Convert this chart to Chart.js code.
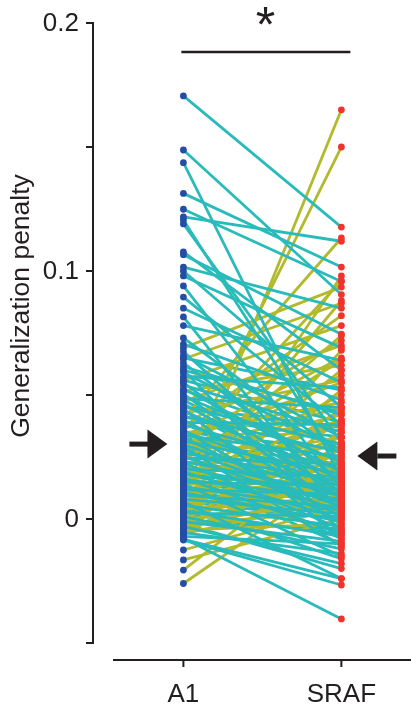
<!DOCTYPE html>
<html><head><meta charset="utf-8">
<script src="https://cdn.jsdelivr.net/npm/chart.js@4.4.1/dist/chart.umd.min.js"></script>
<style>html,body{margin:0;padding:0;background:#fff;}canvas{display:block;}</style>
</head><body>
<canvas id="c" width="411" height="711"></canvas>
<script>
const categories = ['A1', 'SRAF'];
const a1Values = [
0.1706,0.1488,0.1437,0.1313,0.1249,0.1218,0.1206,0.1190,0.1077,0.1066,
0.1016,0.1000,0.0980,0.0940,0.0895,0.0850,0.0815,0.0780,0.0730,0.0705,
0.0690,0.0675,0.0660,0.0645,0.0630,0.0615,0.0600,0.0590,0.0575,0.0560,
0.0550,0.0540,0.0525,0.0515,0.0505,0.0495,0.0485,0.0475,0.0465,0.0455,
0.0445,0.0435,0.0425,0.0415,0.0405,0.0400,0.0390,0.0380,0.0370,0.0360,
0.0352,0.0345,0.0338,0.0330,0.0322,0.0315,0.0308,0.0300,0.0293,0.0286,
0.0280,0.0273,0.0266,0.0260,0.0253,0.0246,0.0240,0.0233,0.0227,0.0220,
0.0214,0.0208,0.0202,0.0196,0.0190,0.0184,0.0178,0.0172,0.0166,0.0160,
0.0154,0.0148,0.0142,0.0136,0.0130,0.0124,0.0118,0.0112,0.0106,0.0100,
0.0095,0.0090,0.0085,0.0080,0.0075,0.0070,0.0065,0.0060,0.0055,0.0050,
0.0045,0.0040,0.0035,0.0030,0.0025,0.0020,0.0015,0.0010,0.0005,0.0000,
-0.0005,-0.0010,-0.0015,-0.0020,-0.0025,-0.0030,-0.0035,-0.0040,-0.0045,-0.0050,
-0.0055,-0.0060,-0.0065,-0.0070,-0.0077,-0.0082,-0.0085,-0.0125,-0.0165,-0.0206,
-0.0260,
0.0310,0.0270,0.0230,0.0190,0.0150,0.0110,0.0070,0.0350,0.0410,0.0450,
0.0200,0.0160,0.0120,0.0080,0.0040,0.0290,0.0330,0.0250,0.0210,0.0170,
0.0130,0.0560,0.0600,0.0650,0.0520,0.0480,0.0440,0.0390,0.0020,-0.0010,
0.0100,0.0060,0.0000,-0.0040,0.0280,0.0180,0.0320,0.0240,0.0360,0.0050,
-0.0020];
const srafValues = [
0.1177,0.0905,0.0160,0.1016,0.0958,0.1120,0.0210,0.0310,0.0600,0.0745,
0.0850,0.0450,0.0690,0.0120,0.0380,0.0550,0.0020,0.0640,0.0260,0.0480,
0.0935,0.0100,0.0330,0.0870,0.0150,0.0420,-0.0050,0.0280,0.0530,0.0780,
0.0080,0.0350,0.0190,0.0620,0.0040,0.0230,0.0450,0.0700,0.0110,0.0300,
-0.0080,0.0160,0.0560,0.0270,0.1133,0.0060,0.0380,0.0200,0.0820,-0.0020,
0.0130,0.0470,0.0250,0.0010,0.0650,0.0180,0.0360,0.0090,-0.0110,0.0290,
0.0050,0.0960,0.0150,0.0420,0.0030,0.0220,0.0580,0.0100,-0.0040,0.1500,
0.0330,0.0070,0.0170,0.0740,0.0000,0.0260,0.0120,0.0500,-0.0060,0.0080,
0.0390,0.0140,-0.0150,0.0210,0.0040,0.0880,0.0100,0.0310,-0.0010,0.0160,
0.0050,0.0600,0.1650,0.0020,0.0240,-0.0240,0.0110,0.0440,-0.0030,0.0180,
0.0070,0.0980,-0.0070,0.0290,0.0010,0.0130,0.0520,-0.0120,0.0200,0.0060,
0.0350,-0.0090,0.0150,0.0030,0.0680,-0.0180,0.0100,0.0400,-0.0020,0.0220,
-0.0140,0.0080,0.0300,-0.0100,-0.0403,-0.0240,-0.0266,0.0050,0.0000,0.0290,
0.0180,
0.0220,0.0190,0.0150,0.0120,0.0060,0.0030,0.0000,0.0280,0.0330,0.0370,
0.0250,0.0200,0.0170,0.0140,0.0090,0.0100,0.0140,0.0070,-0.0080,-0.0100,
-0.0050,0.0390,0.0430,0.0520,0.0300,0.0150,0.0100,0.0050,-0.0060,-0.0040,
0.0330,0.0280,0.0230,0.0170,0.0450,0.0400,0.0550,0.0640,0.0720,-0.0160,
-0.0200];
const yTickValues = [-0.05, 0, 0.05, 0.1, 0.15, 0.2];
const yTickLabels = ['', '0', '', '0.1', '', '0.2'];
const meanMarkers = [0.0302, 0.0254];
const yAxisTitle = 'Generalization penalty';
const significanceLabel = '*';

const TEAL = 'rgb(41,187,187)';
const OLIVE = 'rgb(178,186,42)';
const BLUE = 'rgb(36,78,165)';
const RED = 'rgb(240,52,45)';
const INK = '#231f20';
const FONT = '"Liberation Sans", Arial, sans-serif';

const lineSets = a1Values.map((a, i) => ({
  type: 'line',
  data: [{x: 0, y: a}, {x: 1, y: srafValues[i]}],
  borderColor: a > srafValues[i] ? TEAL : OLIVE,
  borderWidth: 2.8,
  pointRadius: 0,
  showLine: true,
  fill: false,
  order: 2
}));
const a1Points = {type: 'scatter', data: a1Values.map(v => ({x: 0, y: v})), backgroundColor: BLUE, borderWidth: 0, pointRadius: 3.4, order: 0};
const srafPoints = {type: 'scatter', data: srafValues.map(v => ({x: 1, y: v})), backgroundColor: RED, borderWidth: 0, pointRadius: 3.4, order: 0};

const decor = {
  id: 'decor',
  afterDraw(chart) {
    const ctx = chart.ctx, xs = chart.scales.x, ys = chart.scales.y, ca = chart.chartArea;
    ctx.save();
    ctx.strokeStyle = INK; ctx.fillStyle = INK; ctx.lineWidth = 2; ctx.lineCap = 'butt';
    // y axis
    const ax = ca.left;
    ctx.beginPath();
    ctx.moveTo(ax, ys.getPixelForValue(yTickValues[0]) + 1);
    ctx.lineTo(ax, ys.getPixelForValue(yTickValues[yTickValues.length - 1]) - 1);
    yTickValues.forEach(v => { const p = ys.getPixelForValue(v); ctx.moveTo(ax + 1, p); ctx.lineTo(ax - 7, p); });
    ctx.stroke();
    // y tick labels
    ctx.font = '26px ' + FONT; ctx.textAlign = 'right'; ctx.textBaseline = 'middle';
    yTickValues.forEach((v, i) => { if (yTickLabels[i]) ctx.fillText(yTickLabels[i], ax - 14, ys.getPixelForValue(v) + 1); });
    // x axis
    ctx.beginPath();
    ctx.moveTo(ax + 20, ca.bottom); ctx.lineTo(chart.width, ca.bottom);
    categories.forEach((c, i) => { const p = xs.getPixelForValue(i); ctx.moveTo(p, ca.bottom - 1); ctx.lineTo(p, ca.bottom + 7); });
    ctx.stroke();
    // significance bar
    const yb = ys.getPixelForValue(0.1883);
    ctx.lineWidth = 2.5;
    ctx.beginPath(); ctx.moveTo(xs.getPixelForValue(-0.013), yb); ctx.lineTo(xs.getPixelForValue(1.057), yb); ctx.stroke();
    ctx.font = '50px ' + FONT; ctx.textAlign = 'center'; ctx.textBaseline = 'alphabetic';
    ctx.fillText(significanceLabel, xs.getPixelForValue(0.52), 42);
    // mean arrows
    const arrow = (tipX, y, dir) => {
      ctx.fillRect(Math.min(tipX + dir * 20, tipX + dir * 38), y - 2.5, 19, 5);
      ctx.beginPath();
      ctx.moveTo(tipX, y); ctx.lineTo(tipX + dir * 20, y - 14.5); ctx.lineTo(tipX + dir * 20, y + 14.5); ctx.closePath(); ctx.fill();
    };
    arrow(xs.getPixelForValue(0) - 16, ys.getPixelForValue(meanMarkers[0]), -1);
    arrow(xs.getPixelForValue(1) + 16, ys.getPixelForValue(meanMarkers[1]), 1);
    // y title
    ctx.save();
    ctx.translate(22, 306); ctx.rotate(-Math.PI / 2);
    ctx.font = '26.5px ' + FONT; ctx.textAlign = 'center'; ctx.textBaseline = 'middle';
    ctx.fillText(yAxisTitle, 0, 0);
    ctx.restore();
    ctx.restore();
  }
};

new Chart(document.getElementById('c'), {
  type: 'line',
  data: {datasets: [a1Points, srafPoints, ...lineSets]},
  options: {
    responsive: false, animation: false, devicePixelRatio: 1, events: [],
    layout: {autoPadding: false, padding: {top: 23, left: 0, right: 0, bottom: 0}},
    plugins: {legend: {display: false}, tooltip: {enabled: false}},
    scales: {
      x: {
        type: 'linear', min: -0.5723, max: 1.4407,
        grid: {display: false, drawTicks: false}, border: {display: false},
        afterBuildTicks: s => { s.ticks = categories.map((c, i) => ({value: i})); },
        afterFit: s => { s.height = 51; },
        ticks: {padding: 19, color: INK, font: {family: FONT, size: 26}, callback: (v, i) => categories[i]}
      },
      y: {
        type: 'linear', min: -0.05685, max: 0.2,
        grid: {display: false, drawTicks: false}, border: {display: false},
        afterBuildTicks: s => { s.ticks = yTickValues.map(v => ({value: v})); },
        afterFit: s => { s.width = 93; },
        ticks: {display: false}
      }
    }
  },
  plugins: [decor]
});
</script>
</body></html>
